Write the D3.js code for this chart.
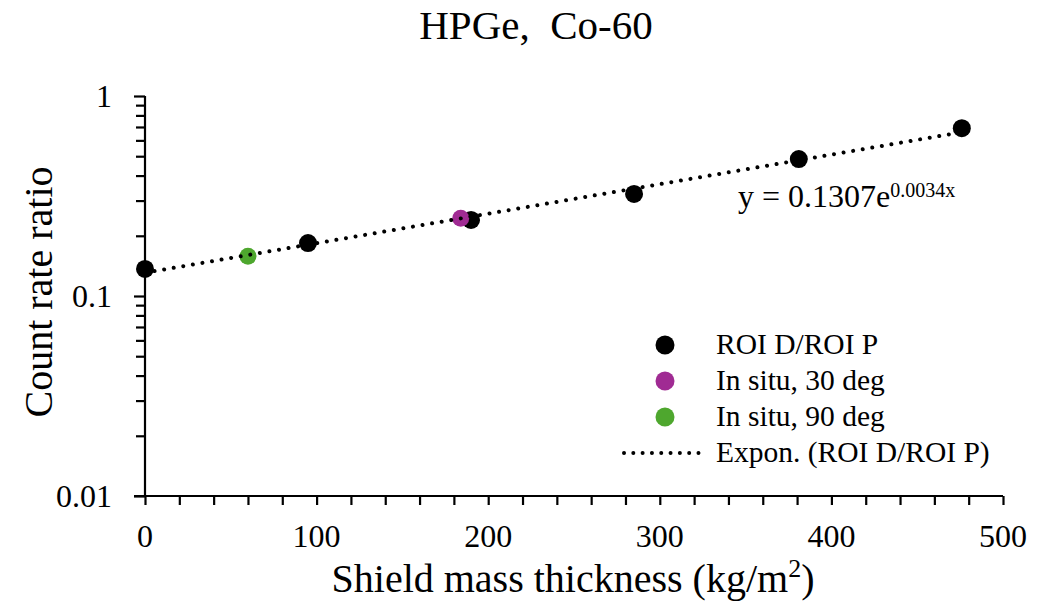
<!DOCTYPE html>
<html><head><meta charset="utf-8">
<script src="https://cdn.jsdelivr.net/npm/d3@7"></script>
<style>body{margin:0;background:#fff}svg{display:block}text{font-family:"Liberation Serif","Times New Roman",serif;fill:#000}</style>
</head><body><svg id="c" width="1058" height="611"></svg>
<script>
const roiX = [0, 95, 190, 285, 381, 476];
const roiY = [0.1365, 0.184, 0.240, 0.324, 0.484, 0.69];
const in30X = [184];
const in30Y = [0.245];
const in90X = [60];
const in90Y = [0.158];
const fitA = 0.1307, fitB = 0.0034;
const xTicks = [0, 100, 200, 300, 400, 500];
const yTicks = [0.01, 0.1, 1];
const yTickLabels = ["0.01", "0.1", "1"];
const legendLabels = ["ROI D/ROI P", "In situ, 30 deg", "In situ, 90 deg", "Expon. (ROI D/ROI P)"];
const colors = {roi: "#000000", in30: "#A02B93", in90: "#4EA72E"};

const svg = d3.select("#c");
const L = 145, R = 1003, T = 96, B = 496;
const x = d3.scaleLinear().domain([0, 500]).range([L, R]);
const y = d3.scaleLog().domain([0.01, 1]).range([B, T]);

// minor ticks
const xMinor = d3.range(0, 501, 20);
const yMinor = [];
[0.01, 0.1].forEach(d => { for (let k = 1; k <= 9; k++) yMinor.push(d * k); });
yMinor.push(1);

const xAxis = d3.axisBottom(x).tickValues(xMinor).tickSize(9).tickFormat("");
const yAxis = d3.axisLeft(y).tickValues(yMinor).tickSize(9).tickFormat("");
const gx = svg.append("g").attr("transform", `translate(0,${B})`).call(xAxis);
const gy = svg.append("g").attr("transform", `translate(${L},0)`).call(yAxis);
[gx, gy].forEach(g => {
  g.select(".domain").attr("stroke", "#000").attr("stroke-width", 2.2);
  g.selectAll(".tick line").attr("stroke", "#000").attr("stroke-width", 2.2);
});
gx.select(".domain").attr("d", `M${L - 11},0H${R}`);
gy.select(".domain").attr("d", `M0,${B}V${T}`);
gy.selectAll(".tick line").filter(d => [0.01, 0.1, 1].some(v => Math.abs(v - d) < 1e-9)).attr("x2", -11);

// tick labels
svg.append("g").selectAll("text").data(xTicks).join("text")
  .attr("x", d => x(d)).attr("y", 547).attr("text-anchor", "middle")
  .style("font-size", "32px").text(d => d);
svg.append("g").selectAll("text").data(yTicks).join("text")
  .attr("x", 112).attr("y", d => y(d) + 11).attr("text-anchor", "end")
  .style("font-size", "32px").text((d, i) => yTickLabels[i]);

// titles
svg.append("text").attr("x", 536).attr("y", 39).attr("text-anchor", "middle")
  .style("font-size", "41px").style("white-space", "pre").text("HPGe,  Co-60");
const xt = svg.append("text").attr("x", 573).attr("y", 592).attr("text-anchor", "middle").style("font-size", "40px");
xt.append("tspan").text("Shield mass thickness (kg/m");
xt.append("tspan").attr("dy", -15).style("font-size", "26px").text("2");
xt.append("tspan").attr("dy", 15).text(")");
svg.append("text").attr("transform", "translate(52,292) rotate(-90)").attr("text-anchor", "middle")
  .style("font-size", "40px").text("Count rate ratio");

// points
const pts = (xs, ys, c, r) => svg.append("g").selectAll("circle").data(xs).join("circle")
  .attr("cx", d => x(d)).attr("cy", (d, i) => y(ys[i])).attr("r", r).attr("fill", c);
pts(roiX, roiY, colors.roi, 9);
pts(in30X, in30Y, colors.in30, 8.5);
pts(in90X, in90Y, colors.in90, 8.5);

// trendline
const fx = d3.range(0, 477, 2);
svg.append("path").datum(fx)
  .attr("d", d3.line().x(d => x(d)).y(d => y(fitA * Math.exp(fitB * d))))
  .attr("fill", "none").attr("stroke", "#000").attr("stroke-width", 4)
  .attr("stroke-linecap", "round").attr("stroke-dasharray", "0.01 9.7");

// equation
const eq = svg.append("text").attr("x", 738).attr("y", 207).style("font-size", "32px");
eq.append("tspan").text("y = 0.1307e");
eq.append("tspan").attr("dy", -10).style("font-size", "20px").text("0.0034x");

// legend
const ly = [345, 381, 417, 453];
const lc = [colors.roi, colors.in30, colors.in90];
svg.append("g").selectAll("circle").data(lc).join("circle")
  .attr("cx", 665).attr("cy", (d, i) => ly[i]).attr("r", 9.5).attr("fill", d => d);
svg.append("line").attr("x1", 624).attr("x2", 699).attr("y1", ly[3]).attr("y2", ly[3])
  .attr("stroke", "#000").attr("stroke-width", 4).attr("stroke-linecap", "round").attr("stroke-dasharray", "0.01 9.3");
svg.append("g").selectAll("text").data(legendLabels).join("text")
  .attr("x", 716).attr("y", (d, i) => ly[i] + 9).style("font-size", "29.5px").text(d => d);
</script></body></html>
